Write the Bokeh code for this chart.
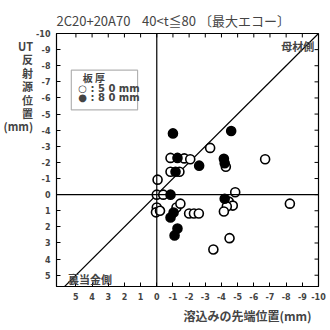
from bokeh.plotting import figure
from bokeh.models import Range1d, LinearAxis, FixedTicker, Label, BoxAnnotation, Span
from bokeh.embed import file_html
from bokeh.resources import INLINE

# ---- data ----
title_text = "2C20+20A70\u00a0\u00a0\u00a0\u00a040<t≦80\u00a0〔最大エコー〕"
x_label = "溶込みの先端位置(mm)"
y_label_chars = ["UT", "反", "射", "源", "位", "置", "(mm)"]
ticks = list(range(-10, 6))
x_tick_labels = {t: str(t) for t in ticks}
y_tick_labels = {t: str(t) for t in ticks}

open50_x = [-3.3, -6.7, -0.85, -1.7, -2.07, -0.85, -1.4, -0.05, 0.0, -0.4, 0.0, 0.05, -0.2,
            -1.22, -1.46, -2.0, -2.3, -2.6, -4.27, -4.85, -4.45, -4.7, -4.33, -4.15, -8.23, -4.5, -3.5]
open50_y = [-2.9, -2.2, -2.28, -2.25, -2.2, -1.42, -1.42, -0.93, 0.0, 0.0, 0.8, 1.1, 1.0,
            0.8, 0.56, 1.17, 1.17, 1.17, -1.73, -0.15, 0.43, 0.68, 0.74, 1.05, 0.56, 2.7, 3.4]
filled80_x = [-1.0, -4.6, -1.28, -2.62, -1.16, -0.85, -0.85, -1.04, -1.1, -1.28, -4.15, -4.2, -4.2]
filled80_y = [-3.8, -3.95, -2.28, -1.8, -1.42, 0.0, 1.42, 1.11, 2.53, 2.1, -2.22, -1.95, 0.25]

legend_title = "板  厚"
legend_items = ["○ : 5 0 mm", "● : 8 0 mm"]
side_top = "母材側"
side_bottom = "裏当金側"

# ---- layout ----
W, H = 326, 326
BL, BR, BT, BB = 53, 8, 33, 38
X0, X1 = 6.2, -10.0
Y0, Y1 = 5.7, -10.0
FW, FH = W - BL - BR, H - BT - BB
PX_X = (X0 - X1) / FW   # data units per px
PX_Y = (Y0 - Y1) / FH

def xd(px):  # page px -> data
    return X0 + (px - BL) / FW * (X1 - X0)

def yd(py):
    return Y1 + (py - BT) / FH * (Y0 - Y1)

FONT = "DejaVu Sans"
JP = "Noto Sans CJK JP"

p = figure(width=W, height=H, output_backend="svg", toolbar_location=None,
           x_range=Range1d(X0, X1), y_range=Range1d(Y0, Y1),
           min_border_left=BL, min_border_right=BR, min_border_top=BT, min_border_bottom=BB,
           x_axis_location=None, y_axis_location=None)
p.grid.visible = False
p.outline_line_color = "black"
p.outline_line_width = 1.2
p.background_fill_color = "white"

p.title.text = title_text
p.title.text_font = JP
p.title.text_font_size = "13px"
p.title.text_font_style = "normal"
p.title.align = "left"
p.title.offset = 0
p.title.standoff = 8

def make_axis(axis, labels):
    axis.ticker = FixedTicker(ticks=ticks)
    axis.major_tick_in = 4
    axis.major_tick_out = 0
    axis.minor_tick_line_color = None
    axis.axis_line_color = "black"
    axis.major_tick_line_color = "black"
    axis.major_label_overrides = labels
    axis.major_label_text_font = FONT
    axis.major_label_text_font_style = "bold"
    axis.major_label_text_font_size = "8px"
    axis.major_label_standoff = 6
    return axis

# stacked y label: visible lines at the top, padded with blank lines below
yax = make_axis(LinearAxis(), y_tick_labels)
yax.axis_label = "\n".join(y_label_chars + ["\u3000"] * 11)
yax.axis_label_orientation = "horizontal"
yax.axis_label_align = "center"
yax.axis_label_standoff = 0
yax.axis_label_text_font = JP
yax.axis_label_text_font_style = "bold"
yax.axis_label_text_font_size = "11px"
yax.axis_label_text_line_height = 0.84
p.add_layout(yax, "left")

# x label shifted right with leading ideographic spaces
xax = make_axis(LinearAxis(), x_tick_labels)
xax.axis_label = "\u3000" * 10 + x_label
xax.axis_label_align = "center"
xax.axis_label_standoff = 4
xax.axis_label_text_font = JP
xax.axis_label_text_font_style = "bold"
xax.axis_label_text_font_size = "12px"
p.add_layout(xax, "below")

# inside ticks on top and right edges
p.segment(x0=ticks, y0=[Y1] * len(ticks), x1=ticks, y1=[Y1 + 4 * PX_Y] * len(ticks),
          line_color="black", line_width=1)
p.segment(x0=[X1] * len(ticks), y0=ticks, x1=[X1 + 4 * PX_X] * len(ticks), y1=ticks,
          line_color="black", line_width=1)

p.add_layout(Span(location=0, dimension="width", line_color="black", line_width=1.2))
p.add_layout(Span(location=0, dimension="height", line_color="black", line_width=1.2))
p.line([X0 + 1, X1], [X0 + 1, X1], line_color="black", line_width=1.2)

p.scatter(open50_x, open50_y, marker="circle", size=9, fill_color="white",
          line_color="black", line_width=1.6)
p.scatter(filled80_x, filled80_y, marker="circle", size=9, fill_color="black",
          line_color="black", line_width=1.6)

# legend box
p.add_layout(BoxAnnotation(left=xd(68), right=xd(135), top=yd(70), bottom=yd(110),
                           fill_color="white", fill_alpha=1, line_color="black", line_width=1.2))
p.add_layout(Label(x=xd(92), y=yd(77), text=legend_title, text_font=JP, text_font_style="bold",
                   text_font_size="10px", text_align="center", text_baseline="middle"))
for i, t in enumerate(legend_items):
    p.add_layout(Label(x=xd(75), y=yd(88 + 10 * i), text=t, text_font=FONT, text_font_style="bold",
                       text_font_size="10px", text_align="left", text_baseline="middle"))

p.add_layout(Label(x=xd(297), y=yd(46), text=side_top, text_font=JP,
                   text_font_style="bold", text_font_size="11px", text_align="center",
                   text_baseline="middle"))
p.add_layout(Label(x=xd(87), y=yd(280), text=side_bottom, text_font=JP,
                   text_font_style="bold", text_font_size="11px", text_align="center",
                   text_baseline="middle"))

open("out.html", "w").write(file_html(p, INLINE))
